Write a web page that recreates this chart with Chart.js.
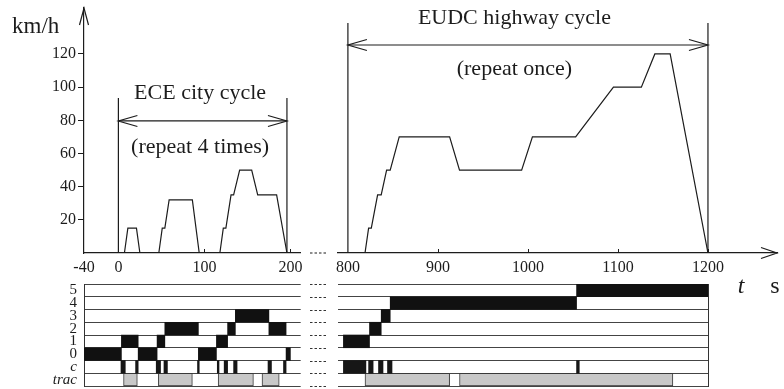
<!DOCTYPE html>
<html lang="en">
<head>
<meta charset="UTF-8">
<title>NEDC driving cycle</title>
<script src="https://cdn.jsdelivr.net/npm/chart.js"></script>
<style>
    body {
        margin: 0;
        background: #fff;
    }

    .stage {
        position: relative;
        width: 784px;
        height: 389px;
        overflow: hidden;
    }

    .stage canvas {
        position: absolute;
    }
</style>
</head>
<body>
<div class="stage">
    <canvas id="eceSpeed" width="330" height="275" style="left:0;top:0"></canvas>
    <canvas id="eudcSpeed" width="464" height="275" style="left:320px;top:0"></canvas>
    <canvas id="eceGears" width="330" height="114" style="left:0;top:275px"></canvas>
    <canvas id="eudcGears" width="464" height="114" style="left:320px;top:275px"></canvas>
</div>

<script>
    // city part (ECE, driven four times), s / km/h
    const eceTime = [0, 7, 11, 21, 25, 47, 51, 54, 59, 86, 94, 118, 122, 125, 131, 134, 141, 155, 162, 184, 196];
    const eceSpeed = [0, 0, 15, 15, 0, 0, 15, 15, 32, 32, 0, 0, 15, 15, 35, 35, 50, 50, 35, 35, 0];

    // highway part (EUDC), s / km/h
    const eudcTime = [800, 819, 823, 826, 833, 837, 843, 847, 857, 913, 924, 993, 1005, 1053, 1095, 1126, 1141, 1158, 1200];
    const eudcSpeed = [0, 0, 15, 15, 35, 35, 50, 50, 70, 70, 50, 50, 70, 70, 100, 100, 120, 120, 0];

    const speedTicks = [20, 40, 60, 80, 100, 120];
    const eceTimeTicks = [-40, 0, 100, 200];
    const eudcTimeTicks = [800, 900, 1000, 1100, 1200];

    // gear / clutch / traction strips
    const gearRows = ['5', '4', '3', '2', '1', '0', 'c', 'trac'];
    const eceShiftTimes = [-40, 3.5, 23, 45, 54, 93, 114, 127, 136, 175, 195, 200];
    const eceGears = ['0', '1', '0', '1', '2', '0', '1', '2', '3', '2', '0'];
    const eceClutch = [[3, 8], [20, 23], [44, 49], [53, 57], [92, 94], [115, 117], [123, 127], [134, 138], [174, 178], [192, 195]];
    const eceTraction = [[6, 22], [46.5, 86], [116, 157], [167, 187]];

    const eudcShiftTimes = [795, 824, 837, 847, 1054, 1200];
    const eudcGears = ['1', '2', '3', '4', '5'];
    const eudcClutch = [[795, 820], [823, 828], [834, 839], [844, 849], [1054, 1057]];
    const eudcTraction = [[819, 913], [924, 1161]];

    const ink = '#1c1c1c';
    const serif = "'Liberation Serif', 'DejaVu Serif', serif";
    const SPEED_MAX = 147.7; // headroom above 120 for the axis arrow

    Chart.defaults.font.family = serif;
    Chart.defaults.color = ink;

    const points = (xs, ys) => xs.map((x, i) => ({ x, y: ys[i] }));
    const fixedTicks = list => s => { s.ticks = list.map(v => ({ value: v })); };
    const plain = v => String(v);

    function line(ctx, x0, y0, x1, y1) {
        ctx.beginPath();
        ctx.moveTo(x0, y0);
        ctx.lineTo(x1, y1);
        ctx.stroke();
    }

    // open arrow head, tip at (x, y), pointing along (dx, dy)
    function arrowHead(ctx, x, y, dx, dy, len, half) {
        ctx.beginPath();
        ctx.moveTo(x - dx * len - dy * half, y - dy * len + dx * half);
        ctx.lineTo(x, y);
        ctx.lineTo(x - dx * len + dy * half, y - dy * len - dx * half);
        ctx.stroke();
    }

    // small inward ticks on the time axis
    function timeTicks(chart) {
        const { ctx, scales: { x }, chartArea } = chart;
        ctx.save();
        ctx.strokeStyle = ink;
        ctx.lineWidth = 1;
        x.ticks.slice(1).forEach(t => {
            const px = Math.round(x.getPixelForValue(t.value)) + 0.5;
            line(ctx, px, chartArea.bottom, px, chartArea.bottom - 4);
        });
        ctx.restore();
    }

    // bracket with double arrow over one part of the cycle
    function cycleMarker(span, m) {
        return {
            id: 'cycleMarker',
            afterDatasetsDraw(chart) {
                const { ctx, scales: { x, y } } = chart;
                const x0 = x.getPixelForValue(span[0]);
                const x1 = x.getPixelForValue(span[1]);
                const base = y.getPixelForValue(0);
                const top = y.getPixelForValue(m.top);
                const ay = y.getPixelForValue(m.arrow);
                ctx.save();
                ctx.strokeStyle = ink;
                ctx.lineWidth = 1.2;
                line(ctx, x0, top, x0, base);
                line(ctx, x1, top, x1, base);
                line(ctx, x0, ay, x1, ay);
                arrowHead(ctx, x0, ay, -1, 0, 19, 5.5);
                arrowHead(ctx, x1, ay, 1, 0, 19, 5.5);
                ctx.fillStyle = ink;
                ctx.font = '22px ' + serif;
                ctx.textAlign = 'center';
                ctx.textBaseline = 'alphabetic';
                const cx = x.getPixelForValue(m.textAt);
                ctx.fillText(m.title, cx, y.getPixelForValue(m.titleY));
                ctx.fillText(m.note, cx, y.getPixelForValue(m.noteY));
                ctx.restore();
            }
        };
    }

    const eceAxes = {
        id: 'eceAxes',
        afterDraw(chart) {
            const { ctx, chartArea } = chart;
            timeTicks(chart);
            ctx.save();
            ctx.strokeStyle = ink;
            ctx.lineWidth = 1.2;
            arrowHead(ctx, chartArea.left, chartArea.top, 0, -1, 17, 4.5);
            // break in the time axis
            ctx.setLineDash([2.5, 2]);
            line(ctx, 310, chartArea.bottom, 326, chartArea.bottom);
            ctx.setLineDash([]);
            ctx.fillStyle = ink;
            ctx.font = '23px ' + serif;
            ctx.textAlign = 'left';
            ctx.fillText('km/h', 12, 33);
            ctx.restore();
        }
    };

    const eudcAxes = {
        id: 'eudcAxes',
        afterDraw(chart) {
            const { ctx, chartArea } = chart;
            timeTicks(chart);
            ctx.save();
            ctx.strokeStyle = ink;
            ctx.lineWidth = 1.2;
            arrowHead(ctx, chartArea.right, chartArea.bottom, 1, 0, 16, 5.5);
            ctx.restore();
        }
    };

    function speedChart(id, time, speed, range, ticks, padding, showY, plugins) {
        return new Chart(document.getElementById(id), {
            type: 'line',
            data: {
                datasets: [{
                    data: points(time, speed),
                    borderColor: ink,
                    borderWidth: 1.2,
                    pointRadius: 0,
                    tension: 0
                }]
            },
            options: {
                responsive: false,
                animation: false,
                layout: { padding },
                plugins: { legend: { display: false }, tooltip: { enabled: false } },
                scales: {
                    x: {
                        type: 'linear',
                        min: range[0],
                        max: range[1],
                        afterBuildTicks: fixedTicks(ticks),
                        afterFit: s => { s.height = 22; s.paddingLeft = s.paddingRight = 0; },
                        grid: { display: false, drawTicks: false },
                        border: { color: ink, width: 1.2 },
                        ticks: { padding: 5, maxRotation: 0, autoSkip: false, callback: plain, font: { size: 16 } }
                    },
                    y: {
                        display: showY,
                        min: 0,
                        max: SPEED_MAX,
                        afterBuildTicks: fixedTicks(speedTicks),
                        afterFit: s => { s.width = showY ? 84 : 0; s.paddingTop = s.paddingBottom = 0; },
                        grid: { drawOnChartArea: false, tickLength: 6, color: ink },
                        border: { color: ink, width: 1.2 },
                        ticks: { padding: 2, callback: plain, font: { size: 16 } }
                    }
                }
            },
            plugins
        });
    }

    speedChart('eceSpeed', eceTime, eceSpeed, [-40, 212], eceTimeTicks,
        { top: 8, right: 29.3, bottom: 0, left: 0 }, true,
        [eceAxes, cycleMarker([0, 196], {
            top: 93.5, arrow: 79.6, textAt: 95,
            title: 'ECE city cycle', titleY: 93,
            note: '(repeat 4 times)', noteY: 60.3
        })]);

    speedChart('eudcSpeed', eudcTime, eudcSpeed, [789, 1276.7], eudcTimeTicks,
        { top: 8, right: 7, bottom: 0, left: 18 }, false,
        [eudcAxes, cycleMarker([800, 1200], {
            top: 138.7, arrow: 125.4, textAt: 985,
            title: 'EUDC highway cycle', titleY: 138,
            note: '(repeat once)', noteY: 107.3
        })]);

    const segments = (times, rows) => rows.map((r, i) => ({ y: r, x: [times[i], times[i + 1]] }));
    const onRow = (row, spans) => spans.map(s => ({ y: row, x: s }));

    const stripBreaks = {
        id: 'stripBreaks',
        afterDraw(chart) {
            const { ctx, chartArea: a } = chart;
            ctx.save();
            ctx.strokeStyle = '#333';
            ctx.lineWidth = 1;
            ctx.setLineDash([2.5, 2]);
            for (let i = 0; i <= gearRows.length; i++) {
                const y = Math.round(a.top + i * (a.bottom - a.top) / gearRows.length) + 0.5;
                line(ctx, 310, y, 328, y);
            }
            ctx.restore();
        }
    };

    const timeUnit = {
        id: 'timeUnit',
        afterDraw(chart) {
            const { ctx } = chart;
            ctx.save();
            ctx.fillStyle = ink;
            ctx.textAlign = 'center';
            ctx.font = 'italic 24px ' + serif;
            ctx.fillText('t', 421, 18);
            ctx.font = '24px ' + serif;
            ctx.fillText('s', 455, 18);
            ctx.restore();
        }
    };

    function gearChart(id, times, gears, clutch, traction, range, side, padding, plugins) {
        return new Chart(document.getElementById(id), {
            type: 'bar',
            data: {
                labels: gearRows,
                datasets: [
                    { data: segments(times, gears), backgroundColor: '#111' },
                    { data: onRow('c', clutch), backgroundColor: '#161616' },
                    {
                        data: onRow('trac', traction),
                        backgroundColor: '#c8c8c8',
                        borderColor: '#3a3a3a',
                        borderWidth: 1,
                        borderSkipped: false
                    }
                ]
            },
            options: {
                indexAxis: 'y',
                responsive: false,
                animation: false,
                datasets: { bar: { grouped: false, barPercentage: 1, categoryPercentage: 1 } },
                layout: { padding },
                plugins: { legend: { display: false }, tooltip: { enabled: false } },
                scales: {
                    x: { type: 'linear', min: range[0], max: range[1], display: false },
                    y: {
                        position: side,
                        grid: { color: '#444', drawTicks: false, offset: true },
                        border: { color: '#333', width: 1 },
                        afterFit: s => { s.width = side === 'left' ? 84 : 0; s.paddingTop = s.paddingBottom = 0; },
                        ticks: {
                            display: side === 'left',
                            autoSkip: false,
                            padding: 7,
                            color: ink,
                            font: c => ({ family: serif, size: 15, style: c.index >= 6 ? 'italic' : 'normal' })
                        }
                    }
                }
            },
            plugins
        });
    }

    gearChart('eceGears', eceShiftTimes, eceGears, eceClutch, eceTraction, [-40, 212], 'left',
        { top: 9, bottom: 3, left: 0, right: 29.3 }, [stripBreaks]);
    gearChart('eudcGears', eudcShiftTimes, eudcGears, eudcClutch, eudcTraction, [789, 1200], 'right',
        { top: 9, bottom: 3, left: 18, right: 76 }, [timeUnit]);
</script>
</body>
</html>
